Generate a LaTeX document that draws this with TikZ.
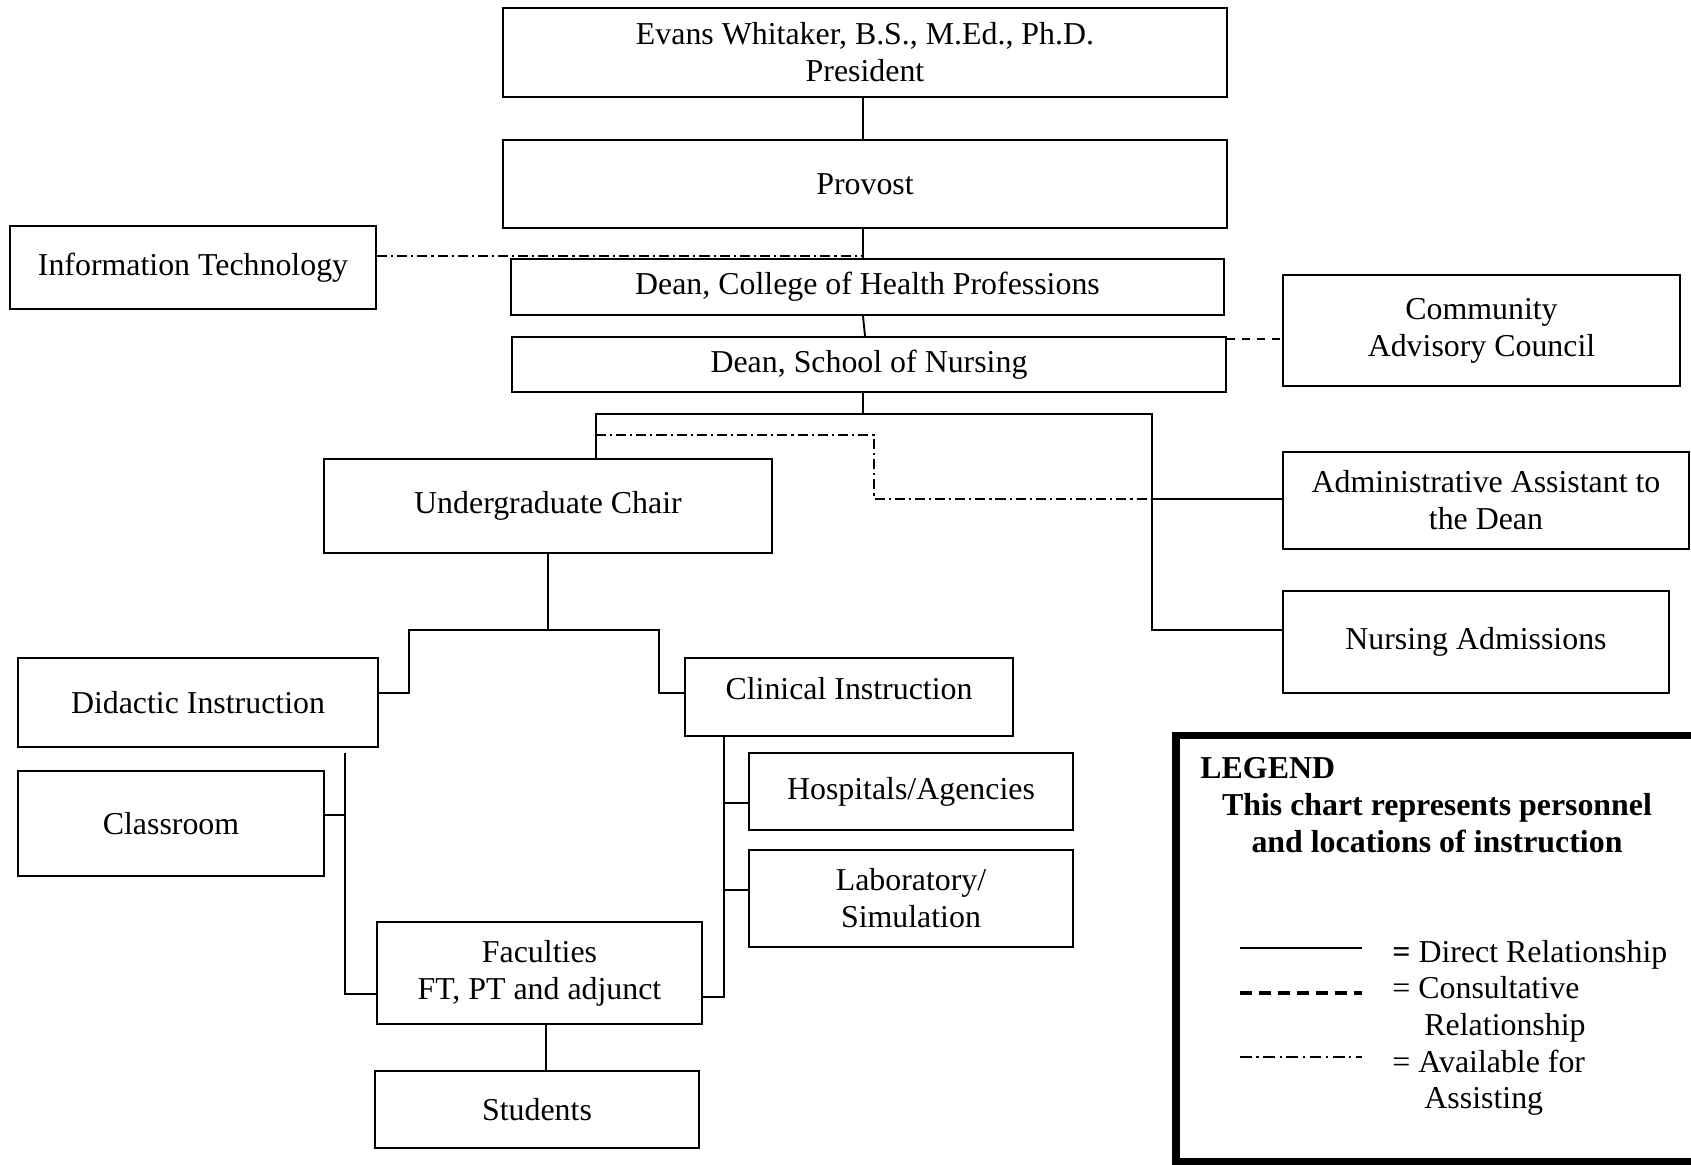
\documentclass[tikz,border=0pt]{standalone}
\usepackage{fontspec}
\setmainfont{Liberation Serif}
\usetikzlibrary{calc}
\newcommand{\chartfont}{\fontsize{13.6}{15.8}\selectfont}

\begin{document}
\begin{tikzpicture}[line cap=butt,line join=miter,x=0.015cm,y=-0.015cm,
	orgbox/.style={draw,line width=0.9pt,align=center,inner sep=0pt,font=\chartfont},
	sz/.style 2 args={minimum width=#1*0.015cm,minimum height=#2*0.015cm},
	link/.style={line width=0.8pt},
	assist/.style={line width=0.6pt,dash pattern=on 4.3pt off 1.7pt on 0.9pt off 1.7pt},
	consult/.style={line width=0.6pt,dash pattern=on 3.4pt off 3pt},
	legendtext/.style={anchor=base west,inner sep=0pt,font=\chartfont}]
	\clip (0,0) rectangle (1691,1165);
	\fill[white] (0,0) rectangle (1691,1165);
	% boxes
	\node[orgbox,sz={724}{89}] (pres) at (865,52.5) {Evans Whitaker, B.S., M.Ed., Ph.D.\\President};
	\node[orgbox,sz={724}{88}] (prov) at (865,184) {Provost};
	\node[orgbox,sz={366}{83}] (it) at (193,267.5) {Information Technology};
	\node[orgbox,sz={713}{56}] (chp) at (867.5,287) {Dean, College of Health Professions};
	\node[orgbox,sz={714}{55}] (son) at (869,364.5) {Dean, School of Nursing};
	\node[orgbox,sz={397}{111}] (cac) at (1481.5,330.5) {Community\\Advisory Council};
	\node[orgbox,sz={448}{94}] (ugc) at (548,506) {Undergraduate Chair};
	\node[orgbox,sz={406}{97}] (aad) at (1486,500.5) {Administrative Assistant to\\the Dean};
	\node[orgbox,sz={386}{102}] (nadm) at (1476,642) {Nursing Admissions};
	\node[orgbox,sz={360}{89}] (did) at (198,702.5) {Didactic Instruction};
	\node[orgbox,sz={328}{78},text depth=7pt] (cli) at (849,697) {Clinical Instruction};
	\node[orgbox,sz={306}{105}] (cls) at (171,823.5) {Classroom};
	\node[orgbox,sz={324}{77}] (hos) at (911,791.5) {Hospitals/Agencies};
	\node[orgbox,sz={324}{97}] (lab) at (911,898.5) {Laboratory/\\Simulation};
	\node[orgbox,sz={325}{102}] (fac) at (539.5,973) {Faculties\\FT, PT and adjunct};
	\node[orgbox,sz={324}{77}] (stu) at (537,1109.5) {Students};
	% upper links
	\coordinate (spine) at (863,0);
	\draw[link] (pres.south -| spine) -- (prov.north -| spine);
	\draw[link] (prov.south -| spine) -- (chp.north -| spine);
	\draw[link] (chp.south -| spine) -- (son.north -| 865,0);
	\draw[assist] (it.east |- 0,256) -- (spine |- 0,256);
	\draw[consult] (son.east |- 0,339) -- (cac.west |- 0,339);
	\coordinate (jl) at (596,414);
	\coordinate (jr) at (1152,414);
	\coordinate (ab) at (874,435);
	\draw[link] (son.south -| spine) -- (spine |- jl);
	\draw[link] (ugc.north -| jl) -- (jl) -- (jr) -- (jr |- 0,630) -- (nadm.west |- 0,630);
	\draw[link] (jr |- 0,499) -- (aad.west |- 0,499);
	\draw[assist] (jl |- ab) -- (ab) -- (ab |- 0,499) -- (jr |- 0,499);
	% lower links
	\coordinate (ul) at (409,630);
	\coordinate (ur) at (659,630);
	\coordinate (dl) at (345,753);
	\coordinate (cr) at (724,997);
	\draw[link] (ugc.south) -- (ugc.south |- ul);
	\draw[link] (did.east |- 0,693) -| (ul) -- (ur) |- (cli.west |- 0,693);
	\draw[link] (dl) |- (fac.west |- 0,994);
	\draw[link] (cls.east |- 0,815) -- (dl |- 0,815);
	\draw[link] (cli.south -| cr) -- (cr) -- (fac.east |- cr);
	\draw[link] (cr |- 0,803) -- (hos.west |- 0,803);
	\draw[link] (cr |- 0,890) -- (lab.west |- 0,890);
	\draw[link] (fac.south -| 546,0) -- (stu.north -| 546,0);
	% legend
	\draw[line width=3pt] (1176,735.5) rectangle (1710,1161.5);
	\node[legendtext,font=\chartfont\bfseries] (lghead) at (1200,779) {LEGEND};
	\node[align=center,inner sep=0pt,font=\chartfont\bfseries] (lgnote) at (1437,823) {This chart represents personnel\\and locations of instruction};
	\node[legendtext] (lgdirect) at (1392,962) {\textbf{=} Direct Relationship};
	\node[legendtext] (lgcons) at (1392,998) {= Consultative};
	\node[legendtext] (lgconsb) at (1424,1035) {Relationship};
	\node[legendtext] (lgavail) at (1392,1072) {= Available for};
	\node[legendtext] (lgavailb) at (1424,1108) {Assisting};
	\draw[line width=0.7pt] (1240,948) -- (1362,948);
	\draw[line width=1.4pt,dash pattern=on 5.1pt off 3pt] (1240,993) -- (1362,993);
	\draw[line width=0.6pt,dash pattern=on 5pt off 2pt on 0.9pt off 2pt] (1240,1057) -- (1362,1057);
\end{tikzpicture}
\end{document}
